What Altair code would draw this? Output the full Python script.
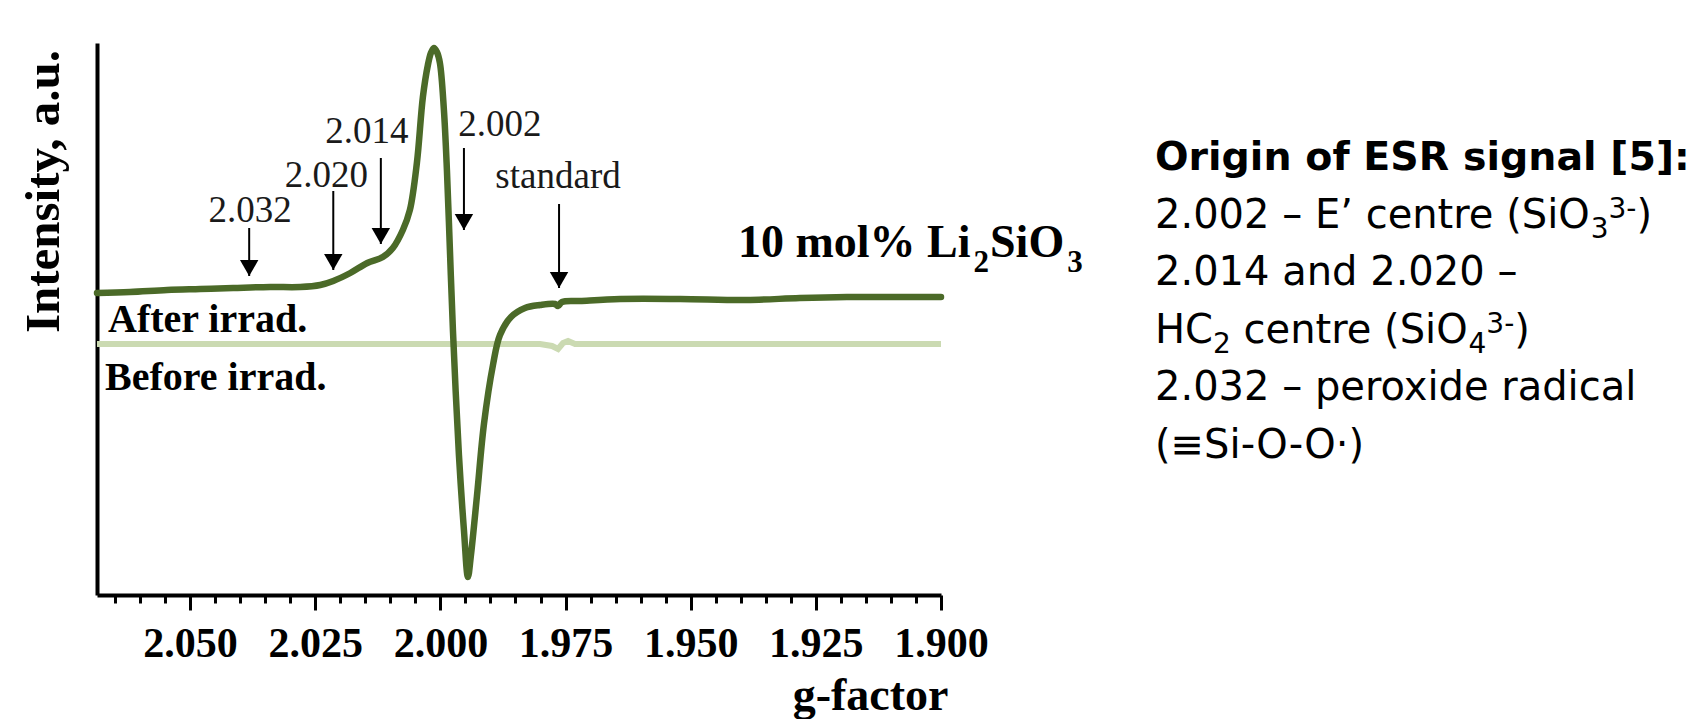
import altair as alt
import pandas as pd

# ---- data (g-factor, intensity in a.u.) ----
g_after = [2.0686, 2.0620, 2.0546, 2.0480, 2.0414, 2.0340, 2.0280, 2.0240, 2.0214, 2.0180,
           2.0146, 2.0115, 2.0095, 2.0075, 2.0061, 2.0047, 2.0035, 2.0025, 2.0019, 2.0013,
           2.0007, 2.0001, 1.9993, 1.9987, 1.9981, 1.9975, 1.9963, 1.9953, 1.9945, 1.9939,
           1.9927, 1.9913, 1.9895, 1.9881, 1.9859, 1.9831, 1.9801, 1.9771, 1.9765, 1.9757,
           1.9721, 1.9641, 1.9521, 1.9388, 1.9282, 1.9188, 1.9082, 1.9000]
int_after = [302, 303, 305, 306, 307, 308, 308, 310, 314, 322,
             332, 338, 347, 365, 385, 432, 498, 530, 542, 547,
             543, 532, 485, 425, 345, 265, 140, 65, 18, 40,
             99, 171, 230, 260, 278, 287, 290, 291, 289, 293,
             294, 296, 296, 295, 297, 298, 298, 298]

g_before = [2.0686, 2.0081, 1.9801, 1.9777, 1.9765, 1.9755, 1.9745, 1.9731, 1.9482, 1.9000]
int_before = [251, 251, 251, 249, 246, 252, 254, 251, 251, 251]

arrow_label = ["2.032", "2.020", "2.014", "2.002", "standard"]
arrow_g = [2.0382, 2.0214, 2.0119, 1.9953, 1.9763]
arrow_top = [367, 404, 437, 447, 391]
arrow_tip = [319, 325, 351, 365, 307]
label_g = [2.0380, 2.0228, 2.0147, 1.9881, 1.9765]
label_int = [373, 408, 452, 459, 407]

curve_label = ["After irrad.", "Before irrad."]
curve_label_g = [2.0664, 2.0670]
curve_label_int = [263, 205]

sample_parts = [("10 mol% Li", "main"), ("2", "sub"), ("SiO", "main"), ("3", "sub")]
sample_g = [1.94056]
sample_int = [338]

panel_title = "Origin of ESR signal [5]:"
# each line: list of (text, role) where role is main / sub / sup
panel_lines = [
    [("2.002 \u2013 E\u2019 centre (SiO", "main"), ("3", "sub"), ("3-", "sup"), (")", "main")],
    [("2.014 and 2.020 \u2013", "main")],
    [("HC", "main"), ("2", "sub"), (" centre (SiO", "main"), ("4", "sub"), ("3-", "sup"), (")", "main")],
    [("2.032 \u2013 peroxide radical", "main")],
    [("(\u2261Si-O-O\u00b7)", "main")],
]

tick_values = [round(1.900 + 0.005 * i, 3) for i in range(34)]

# ---- styles ----
DARK = "#4b6a28"
LIGHT = "#cbdab2"
SERIF = "Liberation Serif"
SANS = "DejaVu Sans"
W, H = 844, 552

# advance widths (units per 2048 em) used to lay out sub/superscripts
DV = {" ": 651, "(": 799, ")": 799, "-": 739, ".": 651, "C": 1430, "E": 1294, "H": 1540,
      "O": 1612, "S": 1300, "c": 1126, "e": 1260, "i": 569, "n": 1298, "r": 842, "t": 803,
      "\u2013": 1024, "\u2019": 651}
for d in "0123456789":
    DV[d] = 1303
TB = {" ": 512, "%": 2048, "L": 1366, "i": 569, "l": 569, "m": 1706, "o": 1024,
      "S": 1139, "O": 1593}
for d in "0123456789":
    TB[d] = 1024


def text_width(s, size, table):
    return sum(table.get(ch, 1100) for ch in s) / 2048.0 * size


df_after = pd.DataFrame({"g": g_after, "intensity": int_after})
df_before = pd.DataFrame({"g": g_before, "intensity": int_before})
df_arrows = pd.DataFrame({"label": arrow_label, "g": arrow_g, "top": arrow_top, "tip": arrow_tip,
                          "label_g": label_g, "label_int": label_int})
df_curve_lab = pd.DataFrame({"label": curve_label, "g": curve_label_g, "intensity": curve_label_int})
df_sample = pd.DataFrame({"g": sample_g, "intensity": sample_int})

major = "abs(datum.value*40 - round(datum.value*40)) < 0.001"

xscale = alt.Scale(domain=[1.9, 2.0686], reverse=True, nice=False, zero=False)
yscale = alt.Scale(domain=[0, 552], nice=False, zero=False)

xaxis = alt.Axis(
    values=tick_values,
    labelExpr=f"({major}) ? format(datum.value, '.3f') : ''",
    tickSize={"condition": {"test": major, "value": 15}, "value": 8},
    tickWidth=3, tickColor="black",
    domainColor="black", domainWidth=4,
    labelFont=SERIF, labelFontSize=42, labelFontWeight="bold", labelColor="black",
    labelBaseline="alphabetic", labelPadding=46, labelOverlap=False, labelFlush=False,
    grid=False,
    title="g-factor", titleFont=SERIF, titleFontSize=46, titleFontWeight="bold",
    titleColor="black", titleX=851, titleY=114, titleAlign="right", titleBaseline="alphabetic",
)
yaxis = alt.Axis(
    ticks=False, labels=False, grid=False,
    domainColor="black", domainWidth=4,
    title="Intensity, a.u.", titleFont=SERIF, titleFontSize=49, titleFontWeight="bold",
    titleColor="black", titleX=-39, titleY=148, titleAngle=270, titleAlign="center",
    titleBaseline="alphabetic",
)

X = lambda f: alt.X(f, type="quantitative", scale=xscale, axis=xaxis)
Y = lambda f: alt.Y(f, type="quantitative", scale=yscale, axis=yaxis)

before = alt.Chart(df_before).mark_line(color=LIGHT, strokeWidth=6).encode(x=X("g"), y=Y("intensity"))
after = alt.Chart(df_after).mark_line(color=DARK, strokeWidth=6.5, interpolate="catmull-rom",
                                      strokeCap="round").encode(x=X("g"), y=Y("intensity"))

rules = alt.Chart(df_arrows).mark_rule(color="black", strokeWidth=2).encode(
    x=X("g"), y=Y("top"), y2="tip:Q")
heads = alt.Chart(df_arrows).mark_point(shape="triangle-down", filled=True, color="black",
                                        opacity=1, size=340, yOffset=-8).encode(x=X("g"), y=Y("tip"))
arrow_text = alt.Chart(df_arrows).mark_text(font=SERIF, fontSize=37, align="center",
                                            baseline="alphabetic", color="#1a1a1a").encode(
    x=X("label_g"), y=Y("label_int"), text="label:N")

curve_text = alt.Chart(df_curve_lab).mark_text(font=SERIF, fontSize=40, fontWeight="bold",
                                               align="left", baseline="alphabetic",
                                               color="black").encode(
    x=X("g"), y=Y("intensity"), text="label:N")

# sample label "10 mol% Li2SiO3" with subscripts, laid out from font metrics
sample_style = {"main": (46, 0), "sub": (31, 15)}
sample_layers = []
xoff = 0.0
for part, role in sample_parts:
    fs, dy = sample_style[role]
    if role == "sub":
        xoff += 3
    sample_layers.append(
        alt.Chart(df_sample).mark_text(font=SERIF, fontSize=fs, fontWeight="bold", align="left",
                                       baseline="alphabetic", color="black", dx=xoff, dy=dy).encode(
            x=X("g"), y=Y("intensity"), text=alt.value(part))
    )
    xoff += text_width(part, fs, TB) + (1 if role == "sub" else 0)

panel_x = 1058
panel_y0 = 127
panel_step = 57.6
role_style = {"main": (40, 0), "sub": (28, 10), "sup": (28, -10)}

panel_layers = [
    alt.Chart(df_sample).mark_text(font=SANS, fontSize=39.5, fontWeight="bold", align="left",
                                   baseline="alphabetic", color="black").encode(
        x=alt.value(panel_x), y=alt.value(panel_y0), text=alt.value(panel_title))
]
for i, segments in enumerate(panel_lines):
    xoff = 0.0
    ybase = panel_y0 + panel_step * (i + 1)
    for seg, role in segments:
        fs, dy = role_style[role]
        stripped = seg.lstrip(" ")
        xoff += text_width(seg[: len(seg) - len(stripped)], fs, DV)
        panel_layers.append(
            alt.Chart(df_sample).mark_text(font=SANS, fontSize=fs, align="left",
                                           baseline="alphabetic", color="black").encode(
                x=alt.value(panel_x + xoff), y=alt.value(ybase + dy), text=alt.value(stripped))
        )
        xoff += text_width(stripped, fs, DV)

chart = alt.layer(before, after, rules, heads, arrow_text, curve_text,
                  *sample_layers, *panel_layers).properties(
    width=W, height=H,
    autosize=alt.AutoSizeParams(type="none"),
    padding={"left": 89, "top": 35, "right": 754, "bottom": 124},
    background="white",
).configure_view(strokeWidth=0)

chart.save("out.html", embed_options={"renderer": "svg", "actions": False})
